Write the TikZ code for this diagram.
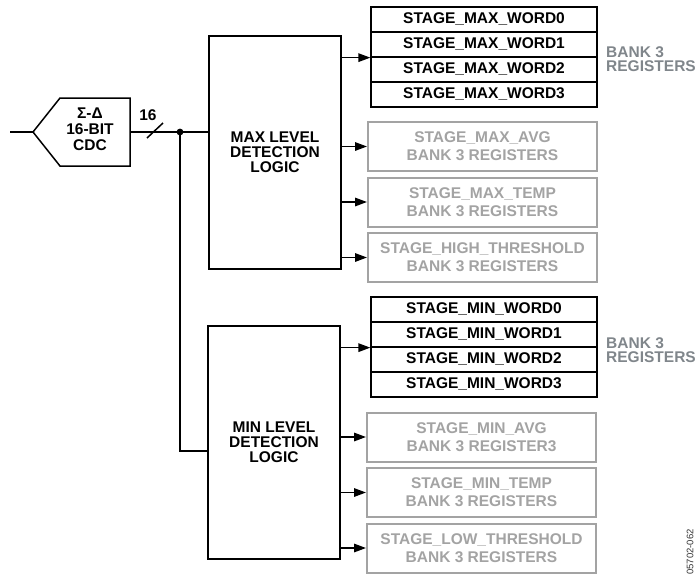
\documentclass[tikz,border=0pt]{standalone}
\usepackage{fontspec}
\setmainfont{Liberation Sans}
\usepackage{xcolor}
\usetikzlibrary{arrows.meta,positioning}
\definecolor{regfade}{HTML}{A3A3A3}
\definecolor{banktxt}{HTML}{80868B}

\begin{document}
\begin{tikzpicture}[
  x=1pt, y=-1pt,
  font=\fontsize{15.5}{15}\selectfont\bfseries,
  wire/.style={line width=1.5pt},
  logic/.style={draw,line width=1.3pt,minimum width=132pt,minimum height=233pt,align=center,inner sep=0pt},
  wordrow/.style={draw,line width=1.3pt,minimum width=226pt,minimum height=25pt,inner sep=0pt},
  fadebox/.style={draw=regfade,line width=2pt,text=regfade,minimum width=229pt,minimum height=49pt,align=center,inner sep=0pt,font=\fontsize{15.5}{18}\selectfont\bfseries},
  banklab/.style={text=banktxt,align=left,anchor=west,inner sep=0pt,font=\fontsize{15.5}{14}\selectfont\bfseries},
  >={Triangle[length=12pt,width=8.5pt]}
]
\useasboundingbox (0,0) rectangle (696,581);

% converter
\coordinate (in) at (10,132);
\coordinate (tip) at (33,132);
\coordinate (cdcout) at (130,132);
\node[align=center,font=\fontsize{15.5}{16}\selectfont\bfseries] (cdc) at (90,129) {Σ-Δ\\16-BIT\\CDC};
\draw[wire] (in) -- (tip);
\draw[wire] (tip) -- (60,98) -- (130,98) -- (130,166) -- (60,166) -- cycle;

% detection logic
\node[logic] (maxbox) at (275,152.5) {MAX LEVEL\\DETECTION\\LOGIC};
\node[logic] (minbox) at (274,442.5) {MIN LEVEL\\DETECTION\\LOGIC};

% bus
\coordinate (dot) at (180,132);
\coordinate (slash) at (155,130.5);
\draw[wire] (cdcout) -- (dot) -- (dot -| maxbox.west);
\draw[wire] (dot) |- ([yshift=-8.5pt]minbox.west);
\fill (dot) circle (3.4pt);
\draw[wire] ([shift={(-8,7.5)}]slash) -- ([shift={(8,-7.5)}]slash);
\node (buswidth) at (148,115) {16};

% register stacks
\foreach \k in {0,...,3}{
  \node[wordrow] (mw\k) at (484,19.5+25*\k) {STAGE\_MAX\_WORD\k};
  \node[wordrow] (nw\k) at (484,309.5+25*\k) {STAGE\_MIN\_WORD\k};
}
\node[banklab] (maxbank) at (606,59) {BANK 3\\REGISTERS};
\node[banklab] (minbank) at (606,350) {BANK 3\\REGISTERS};

\node[fadebox] (mavg) at (482.5,146.5) {STAGE\_MAX\_AVG\\BANK 3 REGISTERS};
\node[fadebox] (mtemp) at (482.5,202) {STAGE\_MAX\_TEMP\\BANK 3 REGISTERS};
\node[fadebox] (mhigh) at (482.5,257.5) {STAGE\_HIGH\_THRESHOLD\\BANK 3 REGISTERS};
\node[fadebox] (navg) at (481.5,437) {STAGE\_MIN\_AVG\\BANK 3 REGISTER3};
\node[fadebox] (ntemp) at (481.5,492.5) {STAGE\_MIN\_TEMP\\BANK 3 REGISTERS};
\node[fadebox] (nlow) at (481.5,548) {STAGE\_LOW\_THRESHOLD\\BANK 3 REGISTERS};

% outputs
\draw[wire,->] (maxbox.east |- mw1.south west) -- (mw1.south west);
\draw[wire,->] (minbox.east |- nw1.south west) -- (nw1.south west);
\foreach \b in {mavg,mtemp,mhigh}
  \draw[wire,->] (maxbox.east |- \b.west) -- (\b.west);
\foreach \b in {navg,ntemp,nlow}
  \draw[wire,->] (minbox.east |- \b.west) -- (\b.west);

\node[rotate=90,font=\fontsize{9.5}{10}\selectfont,text=black!80] (figid) at (690,552) {05702-062};
\end{tikzpicture}
\end{document}
